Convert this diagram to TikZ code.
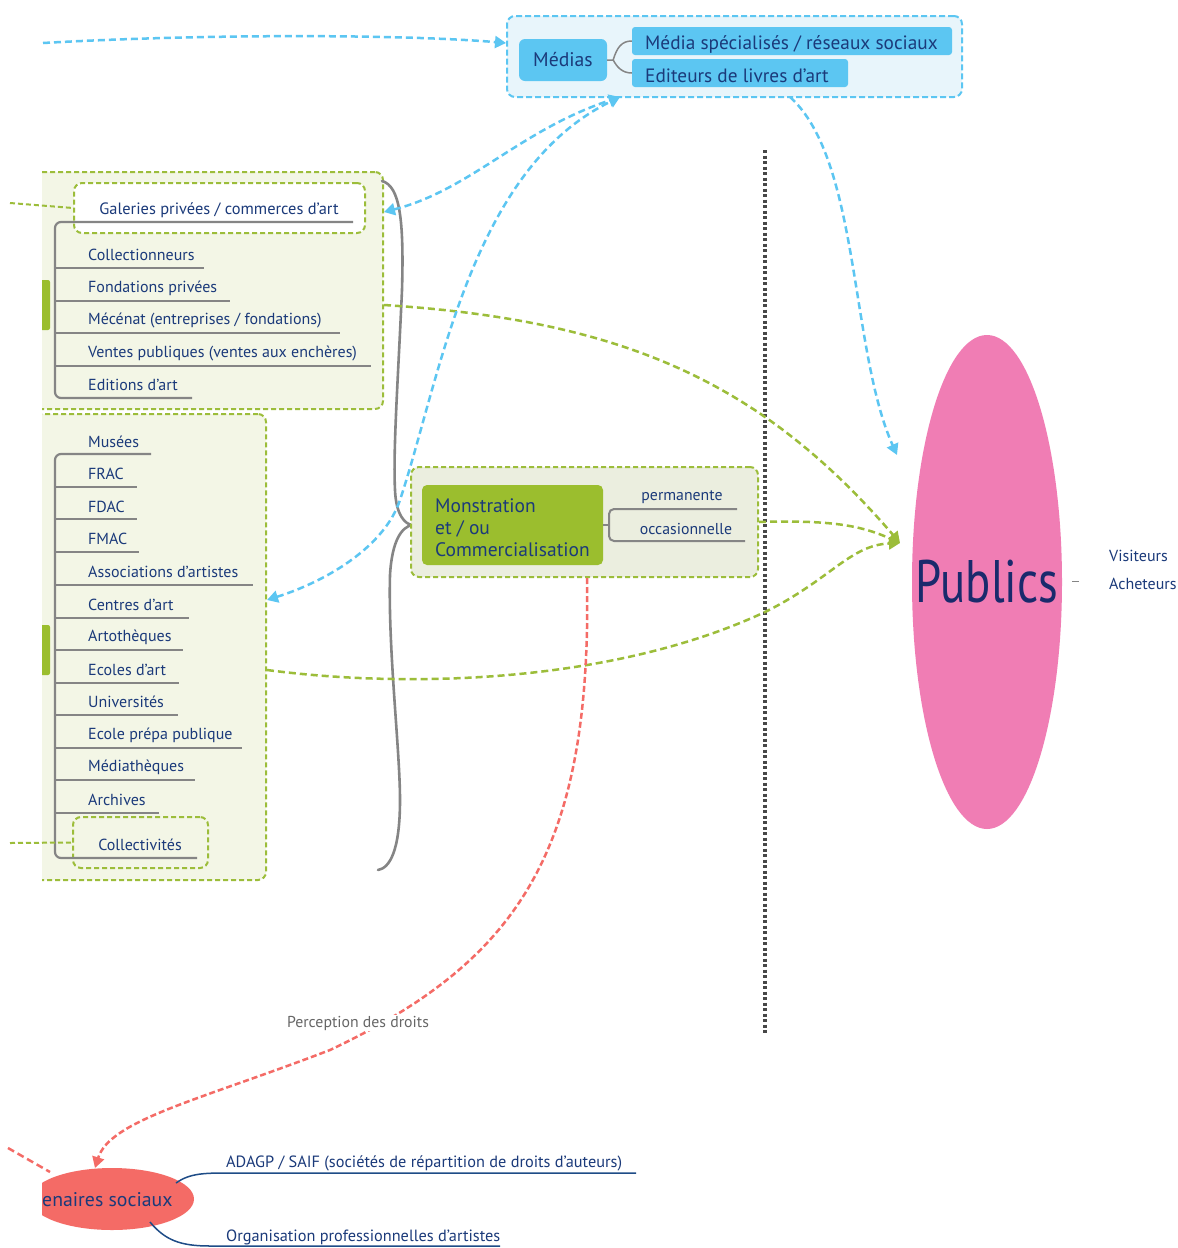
\documentclass[tikz,border=0pt]{standalone}
\usepackage{fontspec}
\setmainfont{PT Sans}
\usetikzlibrary{arrows.meta,shapes.geometric,calc}
\definecolor{navy}{HTML}{1B3A7A}
\definecolor{mblue}{HTML}{5CC6F2}
\definecolor{mbluebg}{HTML}{E8F5FB}
\definecolor{gdash}{HTML}{9CBD3A}
\definecolor{gbg}{HTML}{F3F6E6}
\definecolor{gfill}{HTML}{9BBE2E}
\definecolor{mbg}{HTML}{EBEEDF}
\definecolor{grayl}{HTML}{858585}
\definecolor{pinkp}{HTML}{F07DB4}
\definecolor{coral}{HTML}{F46B66}
\definecolor{dotc}{HTML}{474747}
\definecolor{lnavy}{HTML}{1E4C87}
\definecolor{pubtext}{HTML}{1A2A6C}
\begin{document}
\begin{tikzpicture}[x=1pt,y=-1pt,
  gbox/.style={draw=gdash, dash pattern=on 5pt off 3pt, line width=2pt, rounded corners=8pt, fill=gbg, inner sep=0pt},
  item/.style={anchor=west, text=navy, font=\fontsize{16}{18}\selectfont, inner sep=0pt},
  small/.style={text=navy, font=\fontsize{15.8}{18}\selectfont, inner sep=0pt},
  branch/.style={draw=grayl, line width=2.2pt},
  dashln/.style={line width=2.5pt, dash pattern=on 7pt off 4pt},
  tip/.style={-{Triangle[length=11pt,width=12pt]}},
  bitip/.style={{Triangle[length=11pt,width=12pt]}-{Triangle[length=11pt,width=12pt]}},
  msub/.style={fill=mblue, rounded corners=3pt, inner sep=0pt}
]
\useasboundingbox (0,0) rectangle (1178,1248);
\fill[white] (0,0) rectangle (1178,1248);

% ---------- clipped left region (boxes) ----------
\begin{scope}
\clip (42,0) rectangle (1178,1248);
\node[gbox, minimum width=353pt, minimum height=237pt] (box1) at (206.5,290.5) {};
\node[gbox, minimum width=236pt, minimum height=466pt] (box2) at (148,647) {};
\fill[gfill, rounded corners=2pt] (36,280) rectangle (50,330);
\fill[gfill, rounded corners=2pt] (36,625) rectangle (50,675);
\end{scope}

% ---------- box 1 contents ----------
\node[gbox, fill=white, minimum width=291pt, minimum height=50pt] (gal) at (219.5,208) {};
\node[small, font=\fontsize{16.4}{18}\selectfont] (galt) at (219,210) {Galeries privées / commerces d'art};
\draw[branch, rounded corners=6pt] (353,222) -- (55,222) -- (55,398) -- (192,398);
\draw[branch] (55,268) -- (204,268);
\draw[branch] (55,301) -- (230,301);
\draw[branch] (55,333) -- (340,333);
\draw[branch] (55,366) -- (371,366);
\node[item] (i1) at (88,255) {Collectionneurs};
\node[item] (i2) at (88,288) {Fondations privées};
\node[item] (i3) at (88,320) {Mécénat (entreprises / fondations)};
\node[item] (i4) at (88,353) {Ventes publiques (ventes aux enchères)};
\node[item] (i5) at (88,385) {Editions d'art};

% ---------- box 2 contents ----------
\node[gbox, fill=gbg, minimum width=135pt, minimum height=51pt] (coll) at (140.5,842.5) {};
\draw[branch, rounded corners=6pt] (151,454) -- (55,454) -- (55,858) -- (197,858);
\foreach \yy/\xx in {487/137,519/137,552/139,585/253,618/189,650/183,683/179,715/178,748/242,780/195,813/159}
  \draw[branch] (55,\yy) -- (\xx,\yy);
\node[item] (m1) at (88,442) {Musées};
\node[item] (m2) at (88,474) {FRAC};
\node[item] (m3) at (88,507) {FDAC};
\node[item] (m4) at (88,539) {FMAC};
\node[item] (m5) at (88,572) {Associations d'artistes};
\node[item] (m6) at (88,605) {Centres d'art};
\node[item] (m7) at (88,637) {Artothèques};
\node[item] (m8) at (88,670) {Ecoles d'art};
\node[item] (m9) at (88,702) {Universités};
\node[item] (m10) at (88,735) {Ecole prépa publique};
\node[item] (m11) at (88,767) {Médiathèques};
\node[item] (m12) at (88,800) {Archives};
\node[small, font=\fontsize{16}{18}\selectfont] (collt) at (140,845) {Collectivités};

% dashed green stubs from left
\coordinate (gs1) at (10,203);
\coordinate (gs2) at (10,843);
\draw[gdash, line width=2pt, dash pattern=on 5pt off 3pt] (gs1) -- (gal.west);
\draw[gdash, line width=2pt, dash pattern=on 5pt off 3pt] (gs2) -- (coll.west);

% ---------- brace ----------
\draw[grayl, line width=2.6pt, line cap=round] (382,181) .. controls (400,186) and (404,220) .. (402,290) .. controls (398,380) and (393,450) .. (395,490) .. controls (396,515) and (405,524) .. (412,525);
\draw[grayl, line width=2.6pt, line cap=round] (412,525) .. controls (402,527) and (392,540) .. (390,575) .. controls (388,650) and (400,750) .. (400,800) .. controls (400,850) and (390,868) .. (378,870);

% ---------- Medias ----------
\node[draw=mblue, dash pattern=on 6pt off 3pt, line width=2pt, rounded corners=8pt, fill=mbluebg, minimum width=455pt, minimum height=81pt, inner sep=0pt] (medbox) at (734.5,56.5) {};
\node[fill=mblue, rounded corners=6pt, minimum width=88pt, minimum height=42pt, inner sep=0pt, text=navy, font=\fontsize{19.7}{22}\selectfont] (medias) at (563,60) {Médias};
\node[msub, minimum width=320pt, minimum height=28pt] (ms1) at (792,41) {};
\node[msub, minimum width=216pt, minimum height=28pt] (ms2) at (740,73) {};
\node[anchor=west, inner sep=0pt, text=navy, font=\fontsize{19.3}{22}\selectfont] (ms1t) at (645,44) {Média spécialisés / réseaux sociaux};
\node[anchor=west, inner sep=0pt, text=navy, font=\fontsize{19.3}{22}\selectfont] (ms2t) at (645,76) {Editeurs de livres d'art};
\draw[grayl, line width=1.5pt] (medias.east) -- ++(6,0) .. controls (617,47) and (622,41) .. (ms1.west);
\draw[grayl, line width=1.5pt] (medias.east) ++(6,0) .. controls (617,67) and (622,73) .. (ms2.west);

% ---------- Monstration ----------
\node[gbox, fill=mbg, minimum width=347pt, minimum height=110pt] (monbox) at (584.5,522) {};
\node[fill=gfill, rounded corners=5pt, minimum width=181pt, minimum height=80pt, inner sep=0pt] (mon) at (512.5,525) {};
\node[anchor=west, align=left, inner sep=0pt, text=navy, font=\fontsize{19.5}{22}\selectfont] (mont) at (435,528) {Monstration\\et / ou\\Commercialisation};
\draw[grayl, line width=2pt] (mon.east) -- (609,525);
\draw[grayl, line width=2pt, rounded corners=5pt] (737,509) -- (609,509) -- (609,541) -- (745,541);
\node[small] (perm) at (682,497) {permanente};
\node[small] (occ) at (686,529) {occasionnelle};

% ---------- dotted vertical ----------
\coordinate (dtop) at (765,150);
\coordinate (dbot) at (765,1035);
\draw[dotc, line width=3.5pt, dash pattern=on 3pt off 2.5pt] (dtop) -- (dbot);

% ---------- Publics ----------
\node[ellipse, fill=pinkp, minimum width=150pt, minimum height=494pt, inner sep=0pt] (pub) at (987,582) {};
\node[inner sep=0pt, text=pubtext] (pubt) at (987,582) {\scalebox{0.78}[1]{\fontsize{60}{60}\selectfont Publics}};
\node[small, anchor=west, font=\fontsize{16}{18}\selectfont] (vis) at (1109,556) {Visiteurs};
\node[small, anchor=west, font=\fontsize{16}{18}\selectfont] (ach) at (1109,584) {Acheteurs};
\coordinate (pd1) at (1072,581);
\coordinate (pd2) at (1079,581);
\draw[grayl, line width=0.7pt] (pd1) -- (pd2);

% ---------- green arrows ----------
\coordinate (pubin) at (900,543);
\draw[gdash, dashln, tip] (box1.east |- 0,305) .. controls (620,320) and (760,380) .. (pubin);
\draw[gdash, dashln, tip] (monbox.east) .. controls (830,520) and (860,525) .. (pubin);
\draw[gdash, dashln, tip] (box2.east |- 0,670) .. controls (420,690) and (620,680) .. (765,612) .. controls (830,580) and (850,545) .. (pubin);

% ---------- blue arrows ----------
\coordinate (bstart) at (43,43);
\coordinate (medbot) at (620,97);
\draw[mblue, dashln, tip] (bstart) .. controls (200,34) and (400,34) .. (medbox.west |- 0,43);
\draw[mblue, dashln, bitip] (box1.east |- 0,212) .. controls (470,190) and (520,130) .. (medbot);
\draw[mblue, dashln, bitip] (box2.east |- 0,600) .. controls (330,580) and (385,545) .. (400,500) .. controls (440,380) and (470,170) .. (medbot);
\coordinate (pubtop) at (897,455);
\draw[mblue, dashln, tip] (790,97) .. controls (860,160) and (850,350) .. (pubtop);

% ---------- red / partenaires ----------
\coordinate (rl) at (8,1148);
\draw[coral, dashln] (rl) -- (50,1172);
\begin{scope}
\clip (42,0) rectangle (1178,1248);
\node[ellipse, fill=coral, minimum width=164pt, minimum height=62pt, inner sep=0pt] (part) at (112,1199) {};
\end{scope}
\node[anchor=west, inner sep=0pt, text=navy, font=\fontsize{19.8}{22}\selectfont] (partt) at (42,1200) {enaires sociaux};
\draw[coral, line width=2.5pt, dash pattern=on 6pt off 3pt, tip] (monbox.south -| 587,0) .. controls (592,850) and (520,960) .. (330,1050) .. controls (200,1100) and (110,1120) .. (95,1168);
\node[fill=white, inner sep=1pt, text=black!60, font=\fontsize{15.8}{18}\selectfont] (perc) at (358,1023) {Perception des droits};

\draw[lnavy, line width=1.5pt] (176,1183) .. controls (190,1173) and (205,1173) .. (230,1173) -- (636,1173);
\draw[lnavy, line width=1.5pt] (150,1222) .. controls (165,1240) and (180,1246) .. (210,1246) -- (500,1246);
\node[anchor=west, inner sep=0pt, text=navy, font=\fontsize{16.3}{18}\selectfont] (adagp) at (226,1163) {ADAGP / SAIF (sociétés de répartition de droits d'auteurs)};
\node[anchor=west, inner sep=0pt, text=navy, font=\fontsize{16.3}{18}\selectfont] (orga) at (226,1237) {Organisation professionnelles d'artistes};
\end{tikzpicture}
\end{document}
